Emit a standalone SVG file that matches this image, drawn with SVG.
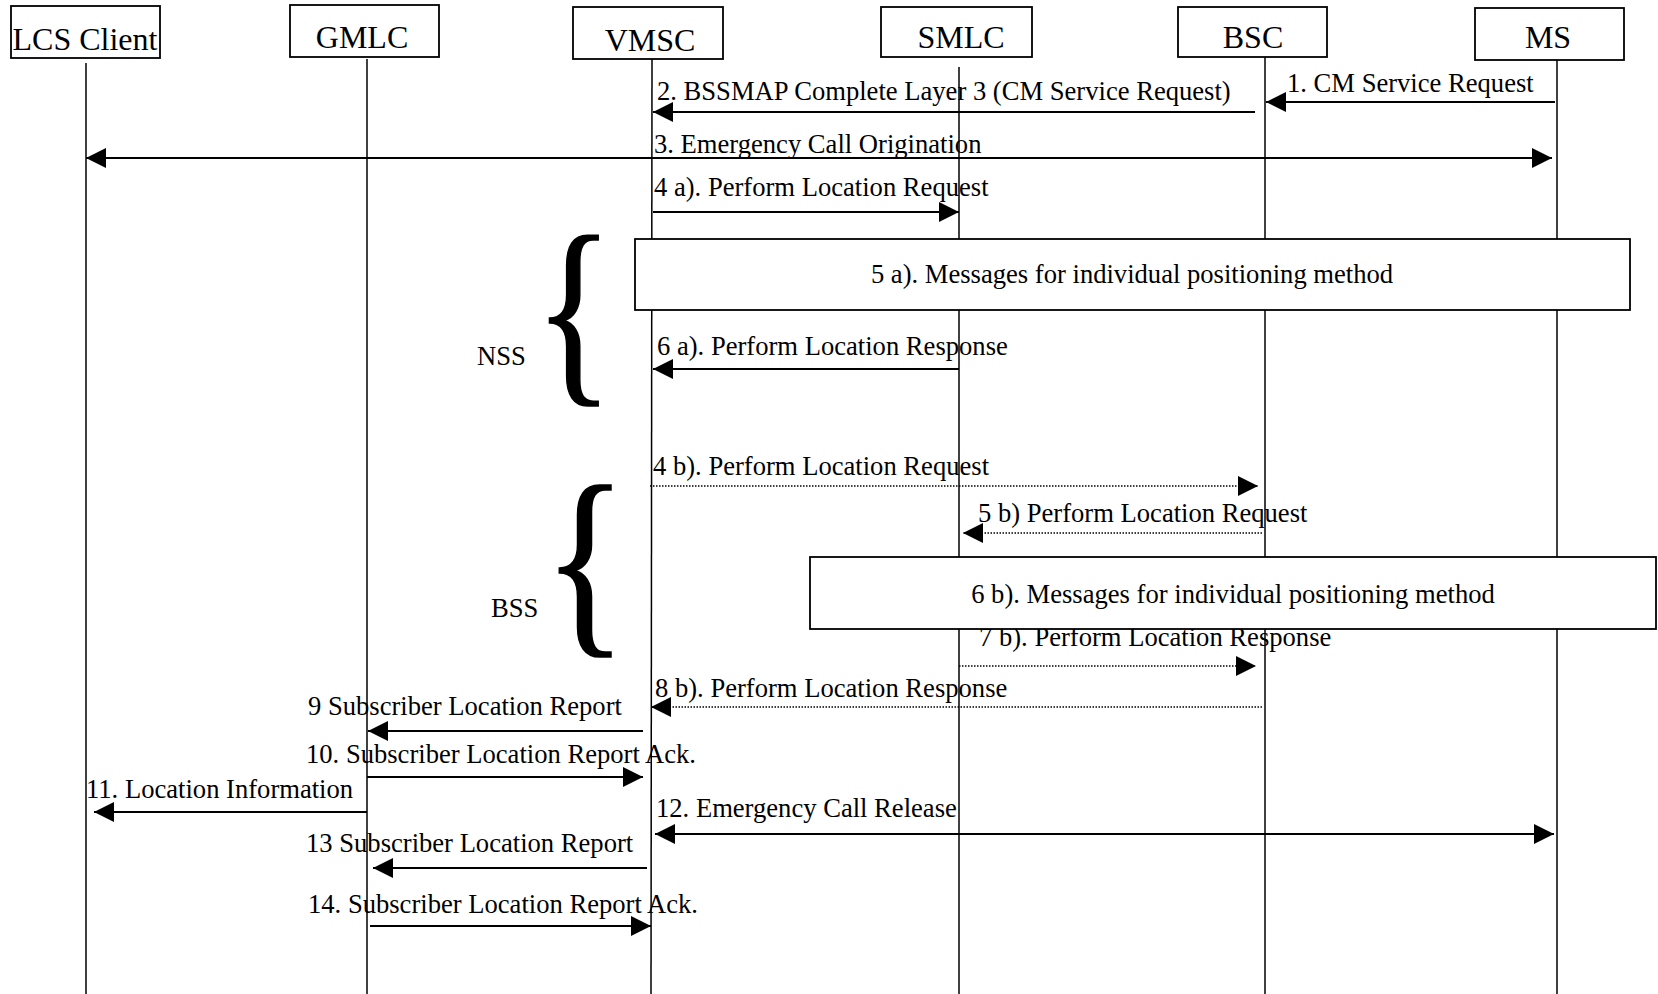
<svg xmlns="http://www.w3.org/2000/svg" width="1658" height="994" viewBox="0 0 1658 994">
<style>
.hd{font-family:"Liberation Serif","Times New Roman",serif;font-size:32px;fill:#000;text-anchor:middle}
.t{font-family:"Liberation Serif","Times New Roman",serif;font-size:26.6px;fill:#000}
.tc{text-anchor:middle}
.box{fill:#fff;stroke:#000;stroke-width:1.8}
.life{stroke:#000;stroke-width:1.5;fill:none}
.msg{stroke:#000;stroke-width:1.8;fill:none;marker-end:url(#ah)}
.dot{stroke-dasharray:1.5 1.5;stroke-width:1.6}
.both{marker-start:url(#ah)}
.brace{font-family:"Liberation Serif","Times New Roman",serif;font-size:195px;fill:#000;stroke:#000;stroke-width:1.6}
</style>
<defs>
<marker id="ah" markerUnits="userSpaceOnUse" markerWidth="20" markerHeight="20" refX="20" refY="10" orient="auto-start-reverse" viewBox="0 0 20 20"><path d="M0,0 L20,10 L0,20 z" fill="#000"/></marker>
</defs>
<rect width="1658" height="994" fill="#fff"/>

<g id="lcs-client">
<rect class="box" x="11" y="6" width="149" height="52"/>
<text class="hd" x="85" y="50">LCS Client</text>
<line class="life" x1="86" y1="63" x2="86" y2="994"/>
</g>
<g id="gmlc">
<rect class="box" x="290" y="5" width="149" height="52"/>
<text class="hd" x="362" y="48">GMLC</text>
<line class="life" x1="367" y1="59" x2="367" y2="994"/>
</g>
<g id="vmsc">
<rect class="box" x="573" y="7" width="150" height="52"/>
<text class="hd" x="650" y="51">VMSC</text>
<line class="life" x1="652" y1="59" x2="651" y2="994"/>
</g>
<g id="smlc">
<rect class="box" x="881" y="7" width="151" height="50"/>
<text class="hd" x="961" y="48">SMLC</text>
<line class="life" x1="959" y1="67" x2="959" y2="994"/>
</g>
<g id="bsc">
<rect class="box" x="1178" y="7" width="149" height="50"/>
<text class="hd" x="1253" y="48">BSC</text>
<line class="life" x1="1265" y1="57" x2="1265" y2="994"/>
</g>
<g id="ms">
<rect class="box" x="1475" y="8" width="149" height="52"/>
<text class="hd" x="1548" y="48">MS</text>
<line class="life" x1="1557" y1="60" x2="1557" y2="994"/>
</g>

<g id="connectors">
<text class="t" x="1287" y="92">1. CM Service Request</text>
<line class="msg" x1="1555" y1="102" x2="1266" y2="102"/>
<text class="t" x="657" y="100">2. BSSMAP Complete Layer 3 (CM Service Request)</text>
<line class="msg" x1="1255" y1="112" x2="653" y2="112"/>
<text class="t" x="654" y="153">3. Emergency Call Origination</text>
<line class="msg both" x1="86" y1="158" x2="1552" y2="158"/>
<text class="t" x="654" y="196">4 a). Perform Location Request</text>
<line class="msg" x1="653" y1="212" x2="959" y2="212"/>
<text class="t" x="657" y="355">6 a). Perform Location Response</text>
<line class="msg" x1="959" y1="369" x2="653" y2="369"/>
<text class="t" x="653" y="475">4 b). Perform Location Request</text>
<line class="msg dot" x1="650" y1="486" x2="1258" y2="486"/>
<text class="t" x="978" y="522">5 b) Perform Location Request</text>
<line class="msg dot" x1="1262" y1="533" x2="963" y2="533"/>
<text class="t" x="979" y="646">7 b). Perform Location Response</text>
<line class="msg dot" x1="959" y1="666" x2="1256" y2="666"/>
<text class="t" x="655" y="697">8 b). Perform Location Response</text>
<line class="msg dot" x1="1262" y1="707" x2="651" y2="707"/>
<text class="t" x="308" y="715">9 Subscriber Location Report</text>
<line class="msg" x1="643" y1="731" x2="368" y2="731"/>
<text class="t" x="306" y="763">10. Subscriber Location Report Ack.</text>
<line class="msg" x1="367" y1="777" x2="643" y2="777"/>
<text class="t" x="86" y="798">11. Location Information</text>
<line class="msg" x1="367" y1="812" x2="94" y2="812"/>
<text class="t" x="656" y="817">12. Emergency Call Release</text>
<line class="msg both" x1="655" y1="834" x2="1554" y2="834"/>
<text class="t" x="306" y="852">13 Subscriber Location Report</text>
<line class="msg" x1="647" y1="868" x2="373" y2="868"/>
<text class="t" x="308" y="913">14. Subscriber Location Report Ack.</text>
<line class="msg" x1="370" y1="926" x2="651" y2="926"/>
</g>

<g id="positioning-5a">
<rect class="box" x="635" y="239" width="995" height="71"/>
<text class="t tc" x="1132" y="283">5 a). Messages for individual positioning method</text>
</g>
<g id="positioning-6b">
<rect class="box" x="810" y="557" width="846" height="72"/>
<text class="t tc" x="1233" y="603">6 b). Messages for individual positioning method</text>
</g>

<g id="nss">
<text class="brace" transform="translate(534.4,377.6) scale(0.84,1.056)" x="0" y="0">{</text>
<text class="t" x="477" y="365">NSS</text>
</g>
<g id="bss">
<text class="brace" transform="translate(543.6,629.4) scale(0.89,1.0625)" x="0" y="0">{</text>
<text class="t" x="491" y="617">BSS</text>
</g>
</svg>
